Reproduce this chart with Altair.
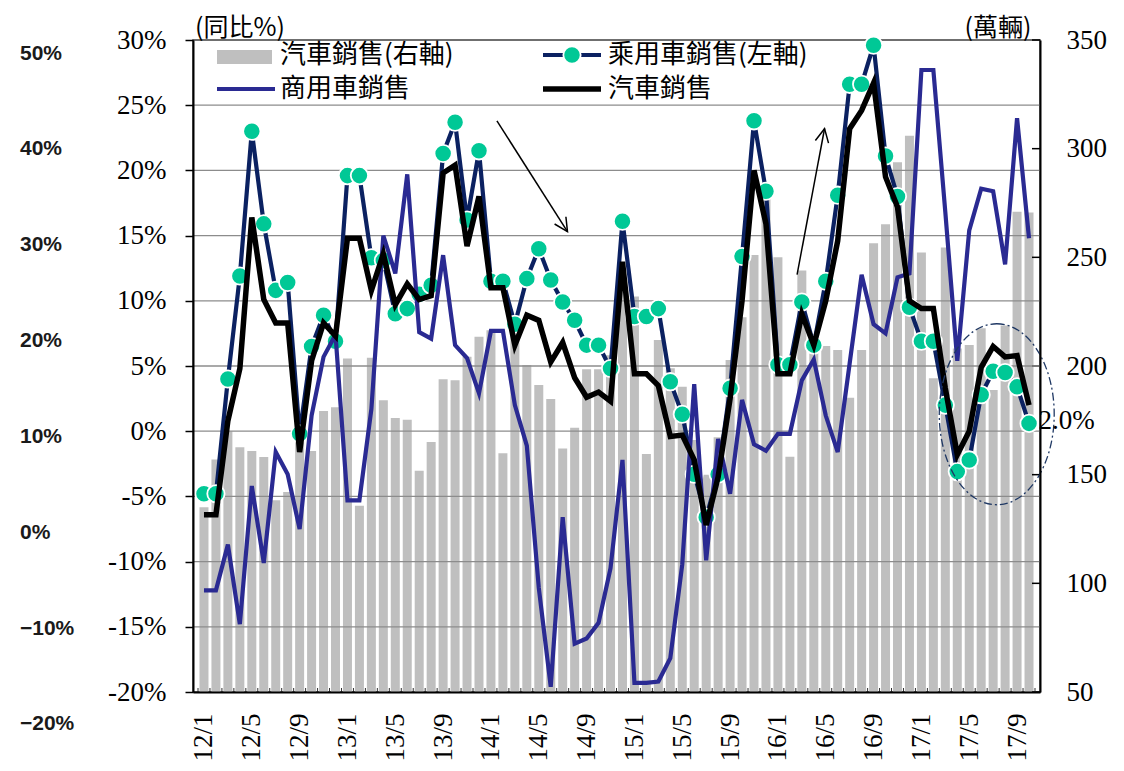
import altair as alt
import pandas as pd

# ---------------- data ----------------
tick_labels = ["12/1", "12/5", "12/9", "13/1", "13/5", "13/9", "14/1", "14/5", "14/9",
               "15/1", "15/5", "15/9", "16/1", "16/5", "16/9", "17/1", "17/5", "17/9"]

# 汽車銷售 (萬輛, right axis) 2012/1 .. 2017/10
cars = [135, 157, 170, 162.6, 160.9, 158.1, 138.2, 142, 167, 160.9, 179.3, 181,
        203.4, 135.7, 203.8, 184.2, 176.1, 175.3, 151.8, 165, 193.9, 193.4, 204.3, 213.5,
        216.5, 159.8, 216, 200.5, 191.3, 184.8, 162, 171.6, 198.5, 198.5, 205, 235,
        232, 159.5, 212, 199, 190.5, 166, 150, 167.2, 202.8, 222.4, 251.1, 279,
        250, 158.3, 243.9, 212, 209.2, 207.4, 185.4, 207.4, 256.5, 265.2, 293.8, 305.9,
        252.2, 194.4, 254.5, 208, 209.7, 217.4, 189, 218.6, 271, 270.6]

# 乘用車銷售 YoY %
passenger = [-4.8, -4.8, 4.0, 11.9, 23.0, 15.9, 10.8, 11.4, -0.2, 6.5, 8.9, 6.9,
             19.6, 19.6, 13.3, 13.1, 9.0, 9.4, 10.5, 11.2, 21.3, 23.7, 16.2, 21.5,
             11.5, 11.5, 8.2, 11.7, 14.0, 11.6, 9.9, 8.5, 6.6, 6.6, 4.8, 16.1,
             8.8, 8.8, 9.4, 3.8, 1.3, -3.3, -6.6, -3.3, 3.3, 13.4, 23.8, 18.4,
             5.1, 5.1, 9.9, 6.6, 11.5, 18.1, 26.6, 26.6, 29.6, 21.1, 18.0, 9.5,
             6.9, 6.9, 2.0, -3.1, -2.2, 2.8, 4.6, 4.5, 3.4, 0.6]

# 商用車銷售 YoY %
commercial = [-12.2, -12.2, -8.7, -14.8, -4.2, -10.1, -1.6, -3.3, -7.5, 1.2, 5.7, 7.4,
              -5.3, -5.3, 1.7, 15.0, 12.1, 19.7, 7.6, 7.1, 13.5, 6.6, 5.6, 2.9,
              7.7, 7.7, 2.0, -1.1, -12.0, -19.6, -6.6, -16.3, -15.9, -14.7, -10.5, -2.2,
              -19.3, -19.3, -19.2, -17.4, -10.2, 3.6, -9.9, -0.6, -4.8, 2.4, -1.0, -1.5,
              -0.2, -0.2, 3.9, 5.5, 1.2, -1.6, 5.2, 12.0, 8.2, 7.5, 11.8, 12.1,
              27.7, 27.7, 16.8, 5.4, 15.4, 18.6, 18.4, 12.8, 24.0, 14.8]

# 汽車銷售 YoY %
total = [-6.4, -6.4, 0.8, 4.8, 16.4, 10.1, 8.3, 8.3, -1.6, 5.4, 8.3, 7.3,
         14.8, 14.8, 10.8, 13.6, 9.7, 11.3, 10.1, 10.4, 19.8, 20.4, 14.2, 18.0,
         11.0, 11.0, 6.6, 8.9, 8.5, 5.3, 6.8, 4.1, 2.6, 3.0, 2.3, 13.0,
         4.4, 4.4, 3.5, -0.4, -0.3, -2.2, -7.2, -3.5, 2.5, 10.0, 20.0, 15.9,
         4.4, 4.4, 9.0, 6.6, 10.0, 14.6, 23.2, 24.6, 26.7, 19.5, 17.2, 10.0,
         9.4, 9.4, 3.3, -1.8, 0.0, 4.9, 6.5, 5.7, 5.8, 2.0]

left_ticks = [-20, -15, -10, -5, 0, 5, 10, 15, 20, 25, 30]
grid_vals = [-15, -10, -5, 0, 5, 10, 15, 20, 25]
right_ticks = [50, 100, 150, 200, 250, 300, 350]
outer_vals = [50, 40, 30, 20, 10, 0, -10, -20]
outer_labels = ["50%", "40%", "30%", "20%", "10%", "0%", "\u221210%", "\u221220%"]

arrow_x1 = [24.5, 49.6]
arrow_y1 = [23.8, 12.0]
arrow_x2 = [30.4, 51.9]
arrow_y2 = [15.3, 23.2]
arrow_angle = [57.4, 281.2]
ellipse_center_x = [66.3]
ellipse_center_y = [1.3]

n = len(cars)
df = pd.DataFrame({"idx": list(range(n)), "cars": cars, "passenger": passenger,
                   "commercial": commercial, "total": total})
bounds = pd.DataFrame({"b": [k - 0.5 for k in range(n + 1)]})

# ---------------- styles ----------------
SERIF = "Liberation Serif"
CJK = "Noto Sans CJK TC"
GREY = "#BFBFBF"
NAVY = "#0B2161"
GREEN = "#00C896"
BLUE = "#2A2A92"
DOT = 300

xscale = alt.Scale(domain=[-0.5, n - 0.5], nice=False, zero=False)
label_expr = "[" + ",".join(f"'{t}'" for t in tick_labels) + "][round(datum.value/4)]"
xaxis = alt.Axis(values=list(range(0, n, 4)), labelExpr=label_expr, ticks=False, grid=False,
                 domainColor="black", domainWidth=2, labelAngle=270, labelAlign="right",
                 labelBaseline="middle", labelFont=SERIF, labelFontSize=27, labelColor="black",
                 labelPadding=21, labelOverlap=False, labelFlush=False, title=None, zindex=1)

lscale = alt.Scale(domain=[-20, 30], nice=False, zero=False)
laxis = alt.Axis(orient="left", values=left_ticks, labelExpr="datum.value + '%'", grid=False,
                 domainColor="black", domainWidth=2, tickColor="black", tickWidth=1.5, tickSize=8,
                 labelFont=SERIF, labelFontSize=27, labelColor="black", labelPadding=19,
                 labelFlush=False, title=None, zindex=1)

rscale = alt.Scale(domain=[50, 350], nice=False, zero=False)
raxis = alt.Axis(orient="right", values=right_ticks, format="d", grid=False, ticks=False,
                 domainColor="black", domainWidth=2, labelFont=SERIF, labelFontSize=27,
                 labelColor="black", labelPadding=26, labelFlush=False, title=None, zindex=1)


def X(field):
    return alt.X(field, scale=xscale, axis=xaxis)


def YL(field):
    return alt.Y(field, scale=lscale, axis=laxis)


# ---------------- right-axis layer (bars) ----------------
bars = alt.Chart(df).mark_bar(size=9, color=GREY).encode(
    x=X("idx:Q"),
    y=alt.Y("cars:Q", scale=rscale, axis=raxis),
    y2=alt.datum(50),
)
rticks = alt.Chart(pd.DataFrame({"rt": right_ticks})).mark_rule(color="black", strokeWidth=1.5).encode(
    y=alt.Y("rt:Q", scale=rscale, axis=raxis),
    x=alt.value(839), x2=alt.value(847),
)
right = alt.layer(bars, rticks)

# ---------------- left-axis layers ----------------
grid = alt.Chart(pd.DataFrame({"g": grid_vals})).mark_rule(color="#8C8C8C", strokeWidth=1.3).encode(
    y=YL("g:Q"))
bticks = alt.Chart(bounds).mark_rule(color="#333333", strokeWidth=1).encode(
    x=X("b:Q"), y=alt.value(648), y2=alt.value(652))

pass_line = alt.Chart(df).mark_line(color=NAVY, strokeWidth=4.2).encode(x=X("idx:Q"), y=YL("passenger:Q"))
pass_pts = alt.Chart(df).mark_circle(color=GREEN, stroke="white", strokeWidth=1.8, size=DOT, opacity=1).encode(
    x=X("idx:Q"), y=YL("passenger:Q"))
comm_line = alt.Chart(df).mark_line(color=BLUE, strokeWidth=4.2).encode(x=X("idx:Q"), y=YL("commercial:Q"))
total_line = alt.Chart(df).mark_line(color="black", strokeWidth=5.5).encode(x=X("idx:Q"), y=YL("total:Q"))

arrows_df = pd.DataFrame({"x1": arrow_x1, "y1": arrow_y1, "x2": arrow_x2, "y2": arrow_y2, "ang": arrow_angle})
arrow_lines = alt.Chart(arrows_df).mark_rule(color="black", strokeWidth=1.5).encode(
    x=X("x1:Q"), y=YL("y1:Q"), x2="x2:Q", y2="y2:Q")
arrow_heads = alt.Chart(arrows_df).mark_point(
    shape="M -1 -0.5 L 0 0 L -1 0.5", filled=False, color="black", strokeWidth=1.5, size=720, opacity=1
).encode(x=X("x2:Q"), y=YL("y2:Q"), angle=alt.Angle("ang:Q", scale=None))

ellipse_path = ("M 0 -1 C 0.351 -1 0.635 -0.552 0.635 0 C 0.635 0.552 0.351 1 0 1 "
                "C -0.351 1 -0.635 0.552 -0.635 0 C -0.635 -0.552 -0.351 -1 0 -1 Z")
ellipse = alt.Chart(pd.DataFrame({"ex": ellipse_center_x, "ey": ellipse_center_y})).mark_point(
    shape=ellipse_path, filled=False, color="#1F3864", strokeWidth=1.3, strokeDash=[8, 3, 2, 3],
    size=181 * 181, opacity=1
).encode(x=X("ex:Q"), y=YL("ey:Q"))

last_df = pd.DataFrame({"lx": [n - 0.2], "ly": [total[-1]], "t": [f"{total[-1]:.1f}%"]})
last_label = alt.Chart(last_df).mark_text(font=SERIF, fontSize=27, align="left", baseline="middle",
                                          dy=16, color="black").encode(x=X("lx:Q"), y=YL("ly:Q"), text="t:N")

one = pd.DataFrame({"a": [0]})
leg_rect = alt.Chart(one).mark_rect(color=GREY).encode(
    x=alt.value(24), x2=alt.value(79), y=alt.value(10), y2=alt.value(24))
leg_navy = alt.Chart(one).mark_rule(color=NAVY, strokeWidth=4).encode(
    x=alt.value(350), x2=alt.value(408), y=alt.value(15))
leg_dot = alt.Chart(one).mark_circle(color=GREEN, stroke="white", strokeWidth=1.8, size=DOT, opacity=1).encode(
    x=alt.value(379), y=alt.value(15))
leg_blue = alt.Chart(one).mark_rule(color=BLUE, strokeWidth=4).encode(
    x=alt.value(24), x2=alt.value(82), y=alt.value(49))
leg_black = alt.Chart(one).mark_rule(color="black", strokeWidth=5.5).encode(
    x=alt.value(350), x2=alt.value(408), y=alt.value(49))


def txt(s, x, y, align="left", size=26):
    return alt.Chart(one).mark_text(text=s, font=CJK, fontSize=size, align=align, baseline="middle",
                                    color="black").encode(x=alt.value(x), y=alt.value(y))


leg_t1 = txt("汽車銷售(右軸)", 87, 15)
leg_t2 = txt("乘用車銷售(左軸)", 415, 15)
leg_t3 = txt("商用車銷售", 87, 49)
leg_t4 = txt("汽車銷售", 415, 49)
title_l = txt("(同比%)", 47, -12, align="center", size=25)
title_r = txt("(萬輛)", 805, -12, align="center", size=25)

left = alt.layer(grid, bticks, pass_line, pass_pts, comm_line, total_line,
                 arrow_lines, arrow_heads, ellipse, last_label,
                 leg_rect, leg_navy, leg_dot, leg_blue, leg_black,
                 leg_t1, leg_t2, leg_t3, leg_t4, title_l, title_r)

# ---------------- stray outer scale at far left ----------------
outer = alt.Chart(pd.DataFrame({"v": outer_vals, "t": outer_labels})).mark_text(
    font="Liberation Sans", fontSize=21, fontWeight="bold", align="left", baseline="middle", color="#1a1a1a"
).encode(
    x=alt.value(-173),
    y=alt.Y("v:Q", scale=alt.Scale(domain=[-20, 50], range=[684.4, 13.6], nice=False, zero=False), axis=None),
    text="t:N",
)

chart = alt.layer(right, left, outer).resolve_scale(y="independent").properties(
    width=847, height=652,
    padding={"left": 185, "top": 32, "right": 76, "bottom": 71},
    autosize=alt.AutoSizeParams(type="none"),
).configure_view(stroke="#404040", strokeWidth=1.5)

chart.save("out.html", embed_options={"renderer": "svg", "actions": False})
